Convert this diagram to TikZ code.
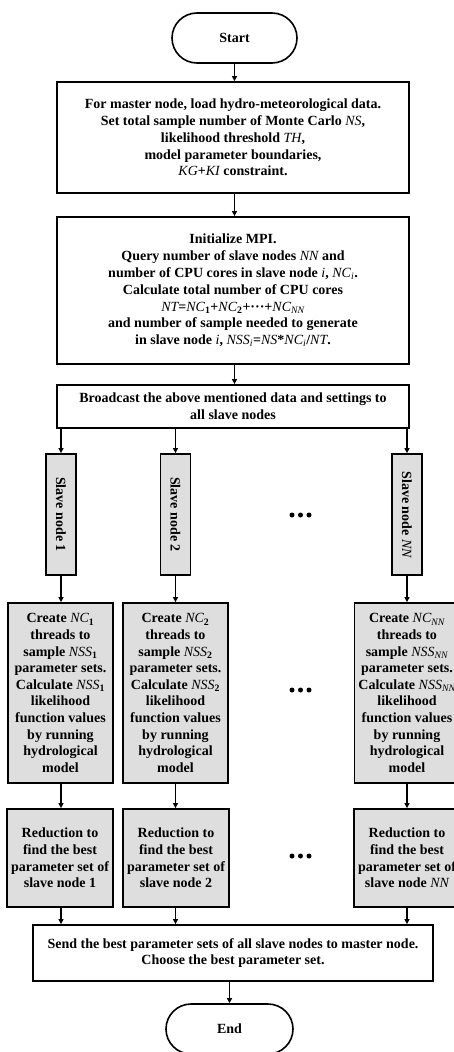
\documentclass[tikz,border=0pt]{standalone}
\usepackage{fontspec}
\setmainfont{Liberation Serif}
\usetikzlibrary{arrows.meta}
\definecolor{slavegray}{HTML}{DEDEDE}
\newcommand{\vv}[1]{{\mdseries\itshape #1}}
\newcommand{\sbs}[1]{\textsubscript{#1}}
\begin{document}
\begin{tikzpicture}[x=1pt,y=-1pt,
 every node/.style={font=\bfseries\fontsize{14}{16.8}\selectfont},
 term/.style={draw, line width=1.6pt, rounded corners=25pt, minimum width=125pt, minimum height=50pt, inner sep=0pt},
 mbox/.style={draw, line width=1.8pt, align=center, inner sep=0pt},
 sbox/.style={draw, line width=1.8pt, fill=slavegray, align=center, inner sep=0pt},
 cbox/.style={sbox, minimum width=105pt, minimum height=180pt, font=\bfseries\fontsize{14}{16.6}\selectfont},
 rbox/.style={sbox, minimum width=106pt, minimum height=98pt},
 arr/.style={-{Triangle[length=5pt,width=5pt]}, line width=1.3pt},
 dot/.style={fill=black, draw=none, circle, minimum size=5pt, inner sep=0pt}
]
\useasboundingbox (0,0) rectangle (453,1052);

\node[term] (start) at (234.5,38) {Start};

\node[mbox, minimum width=352pt, minimum height=111pt] (load) at (233,137.5)
 {For master node, load hydro-meteorological data.\\
  Set total sample number of Monte Carlo \vv{NS},\\
  likelihood threshold \vv{TH},\\
  model parameter boundaries,\\
  \vv{KG}+\vv{KI} constraint.};

\node[mbox, minimum width=352pt, minimum height=147pt] (mpi) at (233,290.5)
 {Initialize MPI.\\
  Query number of slave nodes \vv{NN} and\\
  number of CPU cores in slave node \vv{i}, \vv{NC}\sbs{\vv{i}}.\\
  Calculate total number of CPU cores\\
  \vv{NT}=\vv{NC}\sbs{1}+\vv{NC}\sbs{2}+\textperiodcentered\textperiodcentered\textperiodcentered+\vv{NC}\sbs{\vv{NN}}\\
  and number of sample needed to generate\\
  in slave node \vv{i}, \vv{NSS}\sbs{\vv{i}}=\vv{NS}*\vv{NC}\sbs{\vv{i}}/\vv{NT}.};

\node[mbox, minimum width=352pt, minimum height=43pt] (bc) at (233,406.5)
 {Broadcast the above mentioned data and settings to\\ all slave nodes};

\foreach \n/\x/\lab in {1/61/1, 2/175.5/2, 3/407/\vv{NN}}{
  \node[sbox, minimum width=121pt, minimum height=30pt, rotate=-90] (s\n) at (\x,514.5) {Slave node \lab};
}

\node[cbox] (c1) at (60.5,693)
 {Create \vv{NC}\sbs{1}\\ threads to\\ sample \vv{NSS}\sbs{1}\\ parameter sets.\\ Calculate \vv{NSS}\sbs{1}\\ likelihood\\ function values\\ by running\\ hydrological\\ model};
\node[cbox] (c2) at (175.5,693)
 {Create \vv{NC}\sbs{2}\\ threads to\\ sample \vv{NSS}\sbs{2}\\ parameter sets.\\ Calculate \vv{NSS}\sbs{2}\\ likelihood\\ function values\\ by running\\ hydrological\\ model};
\node[cbox] (c3) at (407,693)
 {Create \vv{NC}\sbs{\vv{NN}}\\ threads to\\ sample \vv{NSS}\sbs{\vv{NN}}\\ parameter sets.\\ Calculate \vv{NSS}\sbs{\vv{NN}}\\ likelihood\\ function values\\ by running\\ hydrological\\ model};

\node[rbox] (r1) at (60,858)
 {Reduction to\\ find the best\\ parameter set of\\ slave node 1};
\node[rbox] (r2) at (176,858)
 {Reduction to\\ find the best\\ parameter set of\\ slave node 2};
\node[rbox] (r3) at (407,858)
 {Reduction to\\ find the best\\ parameter set of\\ slave node \vv{NN}};

\node[mbox, minimum width=400pt, minimum height=56pt] (fin) at (233,953)
 {Send the best parameter sets of all slave nodes to master node.\\ Choose the best parameter set.};

\node[term, minimum width=127pt] (end) at (229.5,1029) {End};

\foreach \y/\nm in {515/a, 690/b, 856/c}{
  \node[dot] (d\nm1) at (292,\y) {};
  \node[dot] (d\nm2) at (300.5,\y) {};
  \node[dot] (d\nm3) at (309,\y) {};
}

\draw[arr] (start.south) -- (start.south |- load.north);
\draw[arr] (load.south -| start.south) -- (start.south |- mpi.north);
\draw[arr] (mpi.south -| start.south) -- (start.south |- bc.north);
\foreach \n in {1,2,3}{
  \draw[arr] (bc.south -| s\n.center) -- (s\n.west);
  \draw[arr] (s\n.east) -- (s\n.east |- c\n.north);
  \draw[arr] (c\n.south -| s\n.center) -- (s\n.center |- r\n.north);
  \draw[arr] (r\n.south -| s\n.center) -- (s\n.center |- fin.north);
}
\draw[arr] (fin.south -| end.north) -- (end.north);
\end{tikzpicture}
\end{document}
